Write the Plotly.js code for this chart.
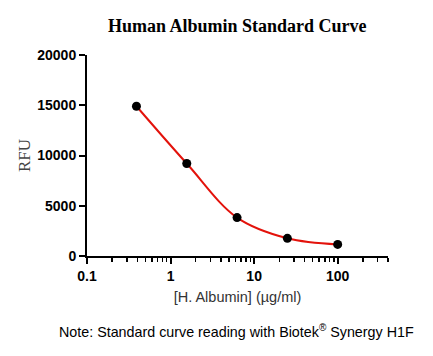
<!DOCTYPE html>
<html><head><meta charset="utf-8">
<script src="https://cdn.plot.ly/plotly-3.0.1.min.js"></script>
<style>html,body{margin:0;padding:0;background:#fff}#c{width:433px;height:356px}</style>
</head><body><div id="c"></div>
<script>
const concentration = [0.390625, 1.5625, 6.25, 25, 100];
const rfu = [14900, 9200, 3820, 1760, 1150];
const xTickVals = [0.1, 1, 10, 100];
const xTickText = ['0.1', '1', '10', '100'];
const yTickVals = [0, 5000, 10000, 15000, 20000];
const yTickText = ['0', '5000', '10000', '15000', '20000'];
const minorVals = [0.2,0.3,0.4,0.5,0.6,0.7,0.8,0.9,2,3,4,5,6,7,8,9,20,30,40,50,60,70,80,90,200,300,400];

const traces = [
  {x: concentration, y: rfu, mode: 'lines', line: {color: '#e3120b', width: 2, shape: 'spline', smoothing: 1}, hoverinfo: 'skip', showlegend: false},
  {x: concentration, y: rfu, mode: 'markers', marker: {color: '#000', size: 9}, showlegend: false}
];
const layout = {
  width: 433, height: 356,
  margin: {l: 87, r: 45, t: 55, b: 100},
  paper_bgcolor: '#fff', plot_bgcolor: '#fff',
  title: {text: 'Human Albumin Standard Curve', font: {family: 'Liberation Serif', size: 18, color: '#000', weight: 'bold'}, x: 0.548, xanchor: 'center', y: 0.928, yanchor: 'middle'},
  xaxis: {type: 'log', range: [-1, Math.log10(400)], showgrid: false, zeroline: false,
    showline: true, linecolor: '#000', linewidth: 2, ticks: 'outside', ticklen: 6, tickwidth: 2, tickcolor: '#000',
    tickvals: xTickVals, ticktext: xTickText,
    tickfont: {family: 'Liberation Sans', size: 14, color: '#000', weight: 'bold'},
    minor: {tickvals: minorVals, ticks: 'outside', ticklen: 4, tickwidth: 1.5, tickcolor: '#000', showgrid: false},
    title: {text: '[H. Albumin] (µg/ml)', font: {family: 'Liberation Sans', size: 14.5, color: '#333'}, standoff: 9}},
  yaxis: {range: [0, 20000], showgrid: false, zeroline: false,
    showline: true, linecolor: '#000', linewidth: 2, ticks: 'outside', ticklen: 6, tickwidth: 2, tickcolor: '#000',
    tickvals: yTickVals, ticktext: yTickText,
    tickfont: {family: 'Liberation Sans', size: 14, color: '#000', weight: 'bold'},
    title: {text: 'RFU', font: {family: 'Liberation Serif', size: 17, color: '#444'}, standoff: 2}},
  annotations: [{text: 'Note: Standard curve reading with Biotek<sup>®</sup> Synergy H1F', xref: 'paper', yref: 'paper', x: 0.497, y: -0.375, xanchor: 'center', yanchor: 'middle', showarrow: false, font: {family: 'Liberation Sans', size: 14.3, color: '#000'}}]
};
Plotly.newPlot('c', traces, layout, {displayModeBar: false, staticPlot: true});
</script></body></html>
